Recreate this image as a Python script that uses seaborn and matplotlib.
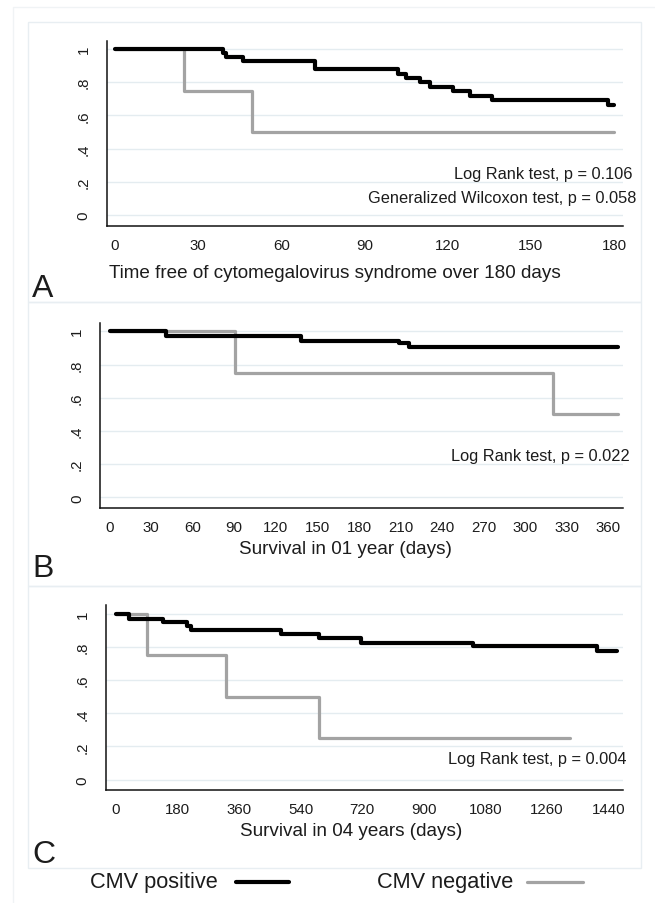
import matplotlib
matplotlib.use("Agg")
import matplotlib.pyplot as plt
import pandas as pd
import seaborn as sns
from matplotlib.patches import Rectangle
from matplotlib.lines import Line2D

# ---------------- data ----------------
# Panel A: time free of CMV syndrome (days)
a_pos_time = [0, 39, 40, 46, 72, 102, 105, 110, 113.5, 122, 128, 136, 178, 180]
a_pos_surv = [1, 0.975, 0.95, 0.925, 0.88, 0.852, 0.825, 0.80, 0.772, 0.745, 0.718, 0.692, 0.664, 0.664]
a_neg_time = [0, 25, 49.5, 180]
a_neg_surv = [1, 0.75, 0.5, 0.5]

# Panel B: survival in 1 year (days)
b_pos_time = [0, 41, 138, 209, 216, 367]
b_pos_surv = [1, 0.97, 0.944, 0.93, 0.904, 0.904]
b_neg_time = [0, 90.5, 320, 367]
b_neg_surv = [1, 0.75, 0.5, 0.5]

# Panel C: survival in 4 years (days)
c_pos_time = [0, 37, 137, 209, 220, 484, 594, 716, 1045, 1406, 1464]
c_pos_surv = [1, 0.970, 0.952, 0.926, 0.900, 0.880, 0.852, 0.826, 0.806, 0.776, 0.776]
c_neg_time = [0, 92, 321, 594, 1329]
c_neg_surv = [1, 0.75, 0.5, 0.25, 0.25]

y_ticks = [0, 0.2, 0.4, 0.6, 0.8, 1]
y_tick_labels = ["0", ".2", ".4", ".6", ".8", "1"]
a_xticks = list(range(0, 181, 30))
b_xticks = list(range(0, 361, 30))
c_xticks = list(range(0, 1441, 180))

a_xlabel = "Time free of cytomegalovirus syndrome over 180 days"
b_xlabel = "Survival in 01 year (days)"
c_xlabel = "Survival in 04 years (days)"
a_tests = ["Log Rank test, p = 0.106", "Generalized Wilcoxon test, p = 0.058"]
b_tests = ["Log Rank test, p = 0.022"]
c_tests = ["Log Rank test, p = 0.004"]
groups = ["CMV positive", "CMV negative"]

# ---------------- style ----------------
sns.set_theme(style="white")
plt.rcParams["font.family"] = ["Liberation Sans", "DejaVu Sans"]

W, H = 655, 904
fig = plt.figure(figsize=(W / 100, H / 100), dpi=100)
fig.patch.set_facecolor("white")

TXT = "#1c1c1c"
BLACK = "#000000"
GREY = "#a3a3a3"
GRID = "#e4ecf0"
FRAME = "#e8eef2"


def fx(x):
    return x / W


def fy(y):
    return 1 - y / H


def add_axes_px(left, right, top, bottom):
    return fig.add_axes([fx(left), fy(bottom), fx(right) - fx(left), (bottom - top) / H])


# frames
fig.add_artist(Rectangle((fx(13), fy(930)), fx(700) - fx(13), (930 - 8) / H,
                         transform=fig.transFigure, fill=False, ec="#f0f3f5", lw=1))
for top, bot in [(23, 303), (303, 587), (587, 869)]:
    fig.add_artist(Rectangle((fx(28), fy(bot)), fx(641) - fx(28), (bot - top) / H,
                             transform=fig.transFigure, fill=False, ec=FRAME, lw=1))

YLIM = (-0.065, 1.05)
AX_H = (YLIM[1] - YLIM[0]) * 166


def km_panel(left, y0px, xlim, xticks, pos_t, pos_s, neg_t, neg_s):
    bottom = y0px + 0.065 * 166
    ax = add_axes_px(left, 623, bottom - AX_H, bottom)
    ax.set_facecolor("white")
    for yt in y_ticks:
        ax.axhline(yt, color=GRID, lw=1.0, zorder=0)
    neg = pd.DataFrame({"time": neg_t, "surv": neg_s})
    pos = pd.DataFrame({"time": pos_t, "surv": pos_s})
    sns.lineplot(data=neg, x="time", y="surv", ax=ax, color=GREY, lw=2.3,
                 drawstyle="steps-post", estimator=None, zorder=2)
    sns.lineplot(data=pos, x="time", y="surv", ax=ax, color=BLACK, lw=3.0,
                 drawstyle="steps-post", estimator=None, zorder=3)
    ax.set_xlim(*xlim)
    ax.set_ylim(*YLIM)
    ax.set_xticks(xticks)
    ax.set_xticklabels([str(t) for t in xticks], fontsize=10.8, color=TXT)
    ax.set_yticks(y_ticks)
    ax.set_yticklabels(y_tick_labels, rotation=90, va="center", fontsize=10.8, color=TXT)
    ax.set_xlabel("")
    ax.set_ylabel("")
    for s in ["top", "right"]:
        ax.spines[s].set_visible(False)
    for s in ["left", "bottom"]:
        ax.spines[s].set_color("#111111")
        ax.spines[s].set_linewidth(1.1)
    ax.tick_params(axis="both", direction="out", length=4.5, width=1.0, color="#111111")
    ax.tick_params(axis="x", pad=4)
    ax.tick_params(axis="y", pad=7)
    ax.grid(False)
    return ax


km_panel(106.5, 216, (-3.07, 183.25), a_xticks, a_pos_time, a_pos_surv, a_neg_time, a_neg_surv)
km_panel(100, 498.3, (-6.86, 370.5), b_xticks, b_pos_time, b_pos_surv, b_neg_time, b_neg_surv)
km_panel(105.7, 780.7, (-30.1, 1482.7), c_xticks, c_pos_time, c_pos_surv, c_neg_time, c_neg_surv)

# axis titles
fig.text(fx(335), fy(273), a_xlabel, ha="center", va="center", fontsize=13.6, color=TXT)
fig.text(fx(345.5), fy(550), b_xlabel, ha="center", va="center", fontsize=13.6, color=TXT)
fig.text(fx(350.7), fy(832), c_xlabel, ha="center", va="center", fontsize=13.6, color=TXT)

# test annotations
fig.text(fx(632), fy(175), a_tests[0], ha="right", va="center", fontsize=11.8, color=TXT)
fig.text(fx(636), fy(199), a_tests[1], ha="right", va="center", fontsize=11.8, color=TXT)
fig.text(fx(630), fy(457), b_tests[0], ha="right", va="center", fontsize=11.8, color=TXT)
fig.text(fx(626), fy(760), c_tests[0], ha="right", va="center", fontsize=11.8, color=TXT)

# panel letters
for letter, base in [("A", 297), ("B", 577), ("C", 863)]:
    fig.text(fx(32), fy(base), letter, ha="left", va="baseline", fontsize=23, color=TXT)

# legend
fig.text(fx(90), fy(883), groups[0], ha="left", va="center", fontsize=15.7, color=TXT)
fig.add_artist(Line2D([fx(236), fx(289)], [fy(883), fy(883)], transform=fig.transFigure,
                      color=BLACK, lw=3.0))
fig.text(fx(377), fy(883), groups[1], ha="left", va="center", fontsize=15.7, color=TXT)
fig.add_artist(Line2D([fx(527), fx(583)], [fy(883), fy(883)], transform=fig.transFigure,
                      color=GREY, lw=2.3))

fig.savefig("out.png", dpi=100, facecolor="white")
